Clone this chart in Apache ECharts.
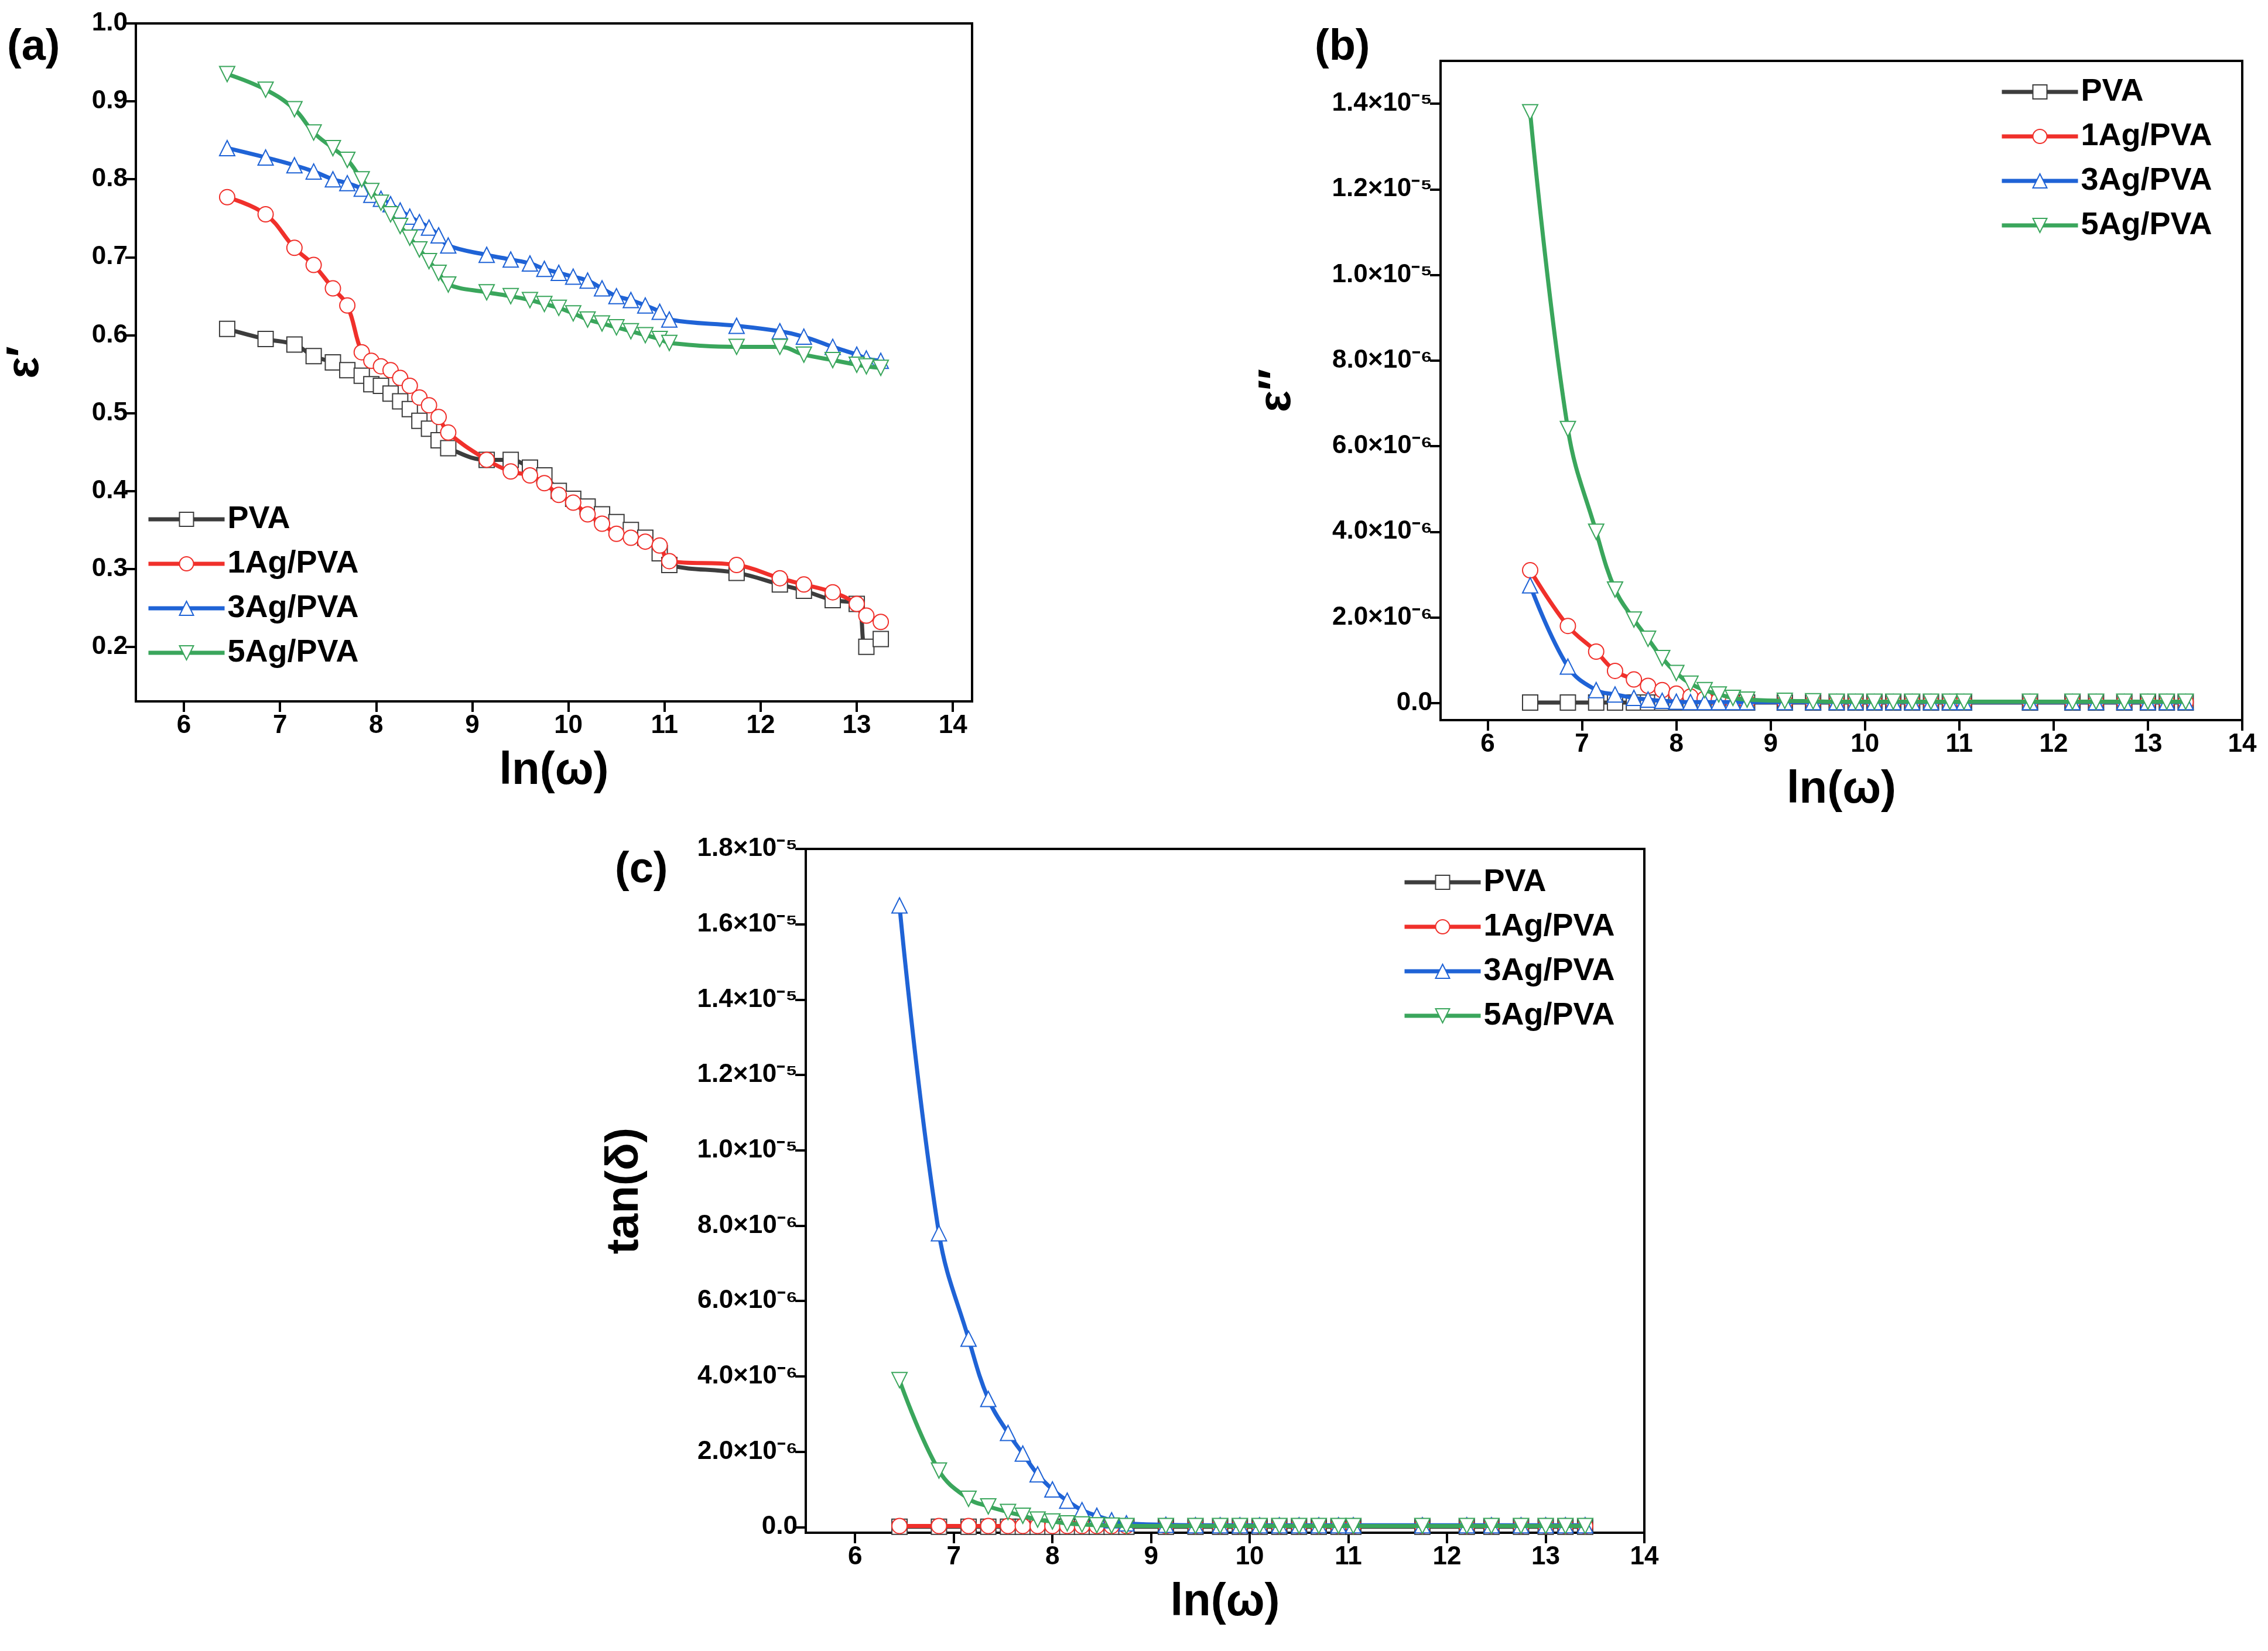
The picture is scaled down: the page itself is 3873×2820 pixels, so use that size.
<!DOCTYPE html>
<html>
<head>
<meta charset="utf-8">
<script src="https://cdn.jsdelivr.net/npm/echarts@6/dist/echarts.min.js"></script>
<style>html,body{margin:0;padding:0;background:#fff}#main{width:3873px;height:2820px}</style>
</head>
<body>
<div id="main"></div>
<script>
// data
var names = ['PVA', '1Ag/PVA', '3Ag/PVA', '5Ag/PVA'];
var colors = ['#3d3d3d', '#f0302b', '#1f63d6', '#3aa65c'];
var symbols = ['emptyRect', 'emptyCircle', 'emptyTriangle', 'emptyTriangle'];
var rotates = [0, 0, 0, 180];

var xA = [6.45,6.85,7.15,7.35,7.55,7.7,7.85,7.95,8.05,8.15,8.25,8.35,8.45,8.55,8.65,8.75,9.15,9.4,9.6,9.75,9.9,10.05,10.2,10.35,10.5,10.65,10.8,10.95,11.05,11.75,12.2,12.45,12.75,13.0,13.1,13.25];
var aPVA = [0.608,0.595,0.588,0.573,0.565,0.555,0.548,0.537,0.535,0.525,0.515,0.505,0.49,0.48,0.465,0.455,0.44,0.44,0.43,0.42,0.40,0.39,0.38,0.37,0.36,0.35,0.34,0.32,0.305,0.295,0.28,0.272,0.26,0.255,0.2,0.21];
var a1Ag = [0.777,0.755,0.712,0.69,0.66,0.638,0.578,0.567,0.56,0.555,0.545,0.535,0.52,0.51,0.495,0.475,0.44,0.425,0.42,0.41,0.395,0.385,0.37,0.358,0.345,0.34,0.335,0.33,0.31,0.305,0.288,0.28,0.27,0.255,0.24,0.232];
var a3Ag = [0.84,0.828,0.818,0.81,0.8,0.795,0.788,0.78,0.775,0.768,0.76,0.752,0.745,0.738,0.728,0.715,0.703,0.697,0.692,0.685,0.68,0.675,0.67,0.66,0.65,0.645,0.638,0.63,0.62,0.612,0.605,0.598,0.585,0.575,0.57,0.567];
var a5Ag = [0.935,0.915,0.89,0.86,0.84,0.825,0.8,0.785,0.77,0.755,0.74,0.725,0.71,0.695,0.68,0.665,0.655,0.65,0.645,0.64,0.635,0.628,0.62,0.615,0.61,0.605,0.6,0.595,0.59,0.585,0.585,0.575,0.568,0.562,0.56,0.558];

var xB = [6.45,6.85,7.15,7.35,7.55,7.7,7.85,8.0,8.15,8.3,8.45,8.6,8.75,9.15,9.45,9.7,9.9,10.1,10.3,10.5,10.7,10.9,11.05,11.75,12.2,12.45,12.75,13.0,13.2,13.4];
// values in units of 1e-6
var bPVA = [0.01,0.01,0.01,0.01,0.01,0.01,0.01,0.01,0.01,0.01,0.01,0.01,0.01,0.01,0.01,0.01,0.01,0.01,0.01,0.01,0.01,0.01,0.01,0.01,0.01,0.01,0.01,0.01,0.01,0.01];
var b1Ag = [3.1,1.8,1.2,0.75,0.55,0.4,0.3,0.22,0.15,0.1,0.07,0.05,0.03,0.02,0.02,0.02,0.02,0.02,0.02,0.02,0.02,0.02,0.02,0.02,0.02,0.02,0.02,0.02,0.02,0.02];
var b3Ag = [2.75,0.85,0.3,0.2,0.12,0.08,0.05,0.03,0.02,0.02,0.02,0.02,0.02,0.02,0.02,0.02,0.02,0.02,0.02,0.02,0.02,0.02,0.02,0.02,0.02,0.02,0.02,0.02,0.02,0.02];
var b5Ag = [13.8,6.4,4.0,2.65,1.95,1.5,1.05,0.7,0.45,0.3,0.2,0.12,0.08,0.05,0.04,0.03,0.03,0.03,0.03,0.03,0.03,0.03,0.03,0.03,0.03,0.03,0.03,0.03,0.03,0.03];
var cPVA = [0.01,0.01,0.01,0.01,0.01,0.01,0.01,0.01,0.01,0.01,0.01,0.01,0.01,0.01,0.01,0.01,0.01,0.01,0.01,0.01,0.01,0.01,0.01,0.01,0.01,0.01,0.01,0.01,0.01,0.01];
var c1Ag = [0.03,0.03,0.03,0.03,0.03,0.03,0.03,0.03,0.03,0.03,0.03,0.03,0.03,0.03,0.03,0.03,0.03,0.03,0.03,0.03,0.03,0.03,0.03,0.03,0.03,0.03,0.03,0.03,0.03,0.03];
var c3Ag = [16.5,7.8,5.0,3.4,2.5,1.95,1.4,1.0,0.7,0.45,0.3,0.18,0.1,0.06,0.05,0.05,0.05,0.05,0.05,0.05,0.05,0.05,0.05,0.05,0.05,0.05,0.05,0.05,0.05,0.05];
var c5Ag = [3.9,1.5,0.75,0.55,0.4,0.3,0.2,0.15,0.1,0.07,0.05,0.04,0.03,0.03,0.03,0.03,0.03,0.03,0.03,0.03,0.03,0.03,0.03,0.03,0.03,0.03,0.03,0.03,0.03,0.03];

var xTicks = [6,7,8,9,10,11,12,13,14];
var aTicks = [0.2,0.3,0.4,0.5,0.6,0.7,0.8,0.9,1.0];
var bTicks = [0,2e-6,4e-6,6e-6,8e-6,1e-5,1.2e-5,1.4e-5];
var cTicks = [0,2e-6,4e-6,6e-6,8e-6,1e-5,1.2e-5,1.4e-5,1.6e-5,1.8e-5];

var sup = {'-':'⁻','0':'⁰','1':'¹','2':'²','3':'³','4':'⁴','5':'⁵','6':'⁶','7':'⁷','8':'⁸','9':'⁹'};
function sciLabel(v){
	if(Math.abs(v) < 1e-12) return '0.0';
	var e = Math.floor(Math.log10(Math.abs(v)) + 1e-9);
	var m = v / Math.pow(10, e);
	var s = String(e).split('').map(function(c){return sup[c];}).join('');
	return m.toFixed(1) + '×10' + s;
}

var font = 'Liberation Sans, Arial, sans-serif';
function pairs(xs, ys, k){
	var out = [];
	for(var i=0;i<xs.length;i++) out.push([xs[i], ys[i]*k]);
	return out;
}
function mkSeries(idx, data, gi){
	return {
		name: names[idx], type: 'line', smooth: 0.4,
		xAxisIndex: gi, yAxisIndex: gi,
		symbol: symbols[idx], symbolRotate: rotates[idx], symbolSize: 26,
		lineStyle: {width: 7, color: colors[idx]},
		itemStyle: {color: colors[idx], borderWidth: 2.5},
		data: data, z: 2 + idx
	};
}
function xAxis(gi, max){
	return {
		gridIndex: gi, type: 'value', min: 5.5, max: max,
		name: 'ln(ω)', nameLocation: 'middle', nameGap: 80,
		nameTextStyle: {fontSize: 78, fontWeight: 'bold', color: '#000', fontFamily: font},
		axisLine: {onZero: false, lineStyle: {color: '#000', width: 4}},
		axisTick: {customValues: xTicks, length: 18, lineStyle: {width: 4, color: '#000'}},
		axisLabel: {customValues: xTicks, fontSize: 44, fontWeight: 'bold', color: '#000', fontFamily: font, margin: 20},
		splitLine: {show: false}
	};
}
function yAxis(gi, min, max, ticks, name, gap, fmt){
	return {
		gridIndex: gi, type: 'value', min: min, max: max,
		name: name, nameLocation: 'middle', nameGap: gap,
		nameTextStyle: {fontSize: 78, fontWeight: 'bold', color: '#000', fontFamily: font},
		axisLine: {onZero: false, lineStyle: {color: '#000', width: 4}},
		axisTick: {customValues: ticks, length: 18, lineStyle: {width: 4, color: '#000'}},
		axisLabel: {customValues: ticks, fontSize: 44, fontWeight: 'bold', color: '#000', fontFamily: font, margin: 14, formatter: fmt},
		splitLine: {show: false}
	};
}
function legend(left, top){
	return {
		left: left, top: top, orient: 'vertical', itemGap: 22, itemWidth: 130, itemHeight: 30,
		data: names, selectedMode: false,
		lineStyle: {width: 7},
		textStyle: {fontSize: 54, fontWeight: 'bold', color: '#000', fontFamily: font}
	};
}
var gridStyle = {show: true, borderColor: '#000', borderWidth: 4, backgroundColor: 'transparent'};

var series = [];
[aPVA, a1Ag, a3Ag, a5Ag].forEach(function(d, i){ series.push(mkSeries(i, pairs(xA, d, 1), 0)); });
[bPVA, b1Ag, b3Ag, b5Ag].forEach(function(d, i){ series.push(mkSeries(i, pairs(xB, d, 1e-6), 1)); });
[cPVA, c1Ag, c3Ag, c5Ag].forEach(function(d, i){ series.push(mkSeries(i, pairs(xB, d, 1e-6), 2)); });

var option = {
	backgroundColor: '#fff',
	animation: false,
	grid: [
		Object.assign({left: 232, top: 40, width: 1428, height: 1158}, gridStyle),
		Object.assign({left: 2460, top: 104, width: 1369, height: 1126}, gridStyle),
		Object.assign({left: 1376, top: 1450, width: 1432, height: 1168}, gridStyle)
	],
	xAxis: [xAxis(0, 14.2), xAxis(1, 14), xAxis(2, 14)],
	yAxis: [
		yAxis(0, 0.13, 1.0, aTicks, 'ε′', 150, function(v){ return v.toFixed(1); }),
		yAxis(1, -0.4e-6, 1.5e-5, bTicks, 'ε″', 240, sciLabel),
		yAxis(2, -0.15e-6, 1.8e-5, cTicks, 'tan(δ)', 270, sciLabel)
	],
	legend: [legend(245, 855), legend(3410, 125), legend(2390, 1475)],
	graphic: [
		{type: 'text', left: 12, top: 45, style: {text: '(a)', fontSize: 74, fontWeight: 'bold', fill: '#000', fontFamily: font}},
		{type: 'text', left: 2245, top: 45, style: {text: '(b)', fontSize: 74, fontWeight: 'bold', fill: '#000', fontFamily: font}},
		{type: 'text', left: 1050, top: 1450, style: {text: '(c)', fontSize: 74, fontWeight: 'bold', fill: '#000', fontFamily: font}}
	],
	series: series
};
echarts.init(document.getElementById('main')).setOption(option);
</script>
</body>
</html>
